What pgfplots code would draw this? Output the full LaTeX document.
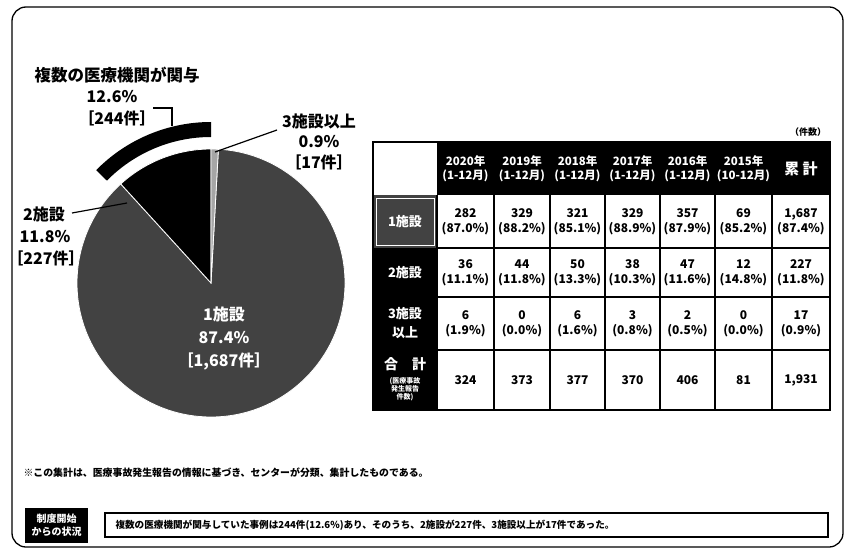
\documentclass[border=0pt]{standalone}
\usepackage{pgfplots}
\pgfplotsset{compat=1.18}
\usepackage{fontspec}
\setmainfont{Noto Sans CJK JP}
\begin{document}
\begin{tikzpicture}
% pie data (cases)
\pgfmathsetmacro{\nOne}{1687}
\pgfmathsetmacro{\nTwo}{227}
\pgfmathsetmacro{\nThree}{17}
\pgfmathsetmacro{\tot}{\nOne+\nTwo+\nThree}
\pgfmathsetmacro{\aOne}{\nOne/\tot*360}
\pgfmathsetmacro{\aTwo}{\nTwo/\tot*360}
\pgfmathsetmacro{\aThree}{\nThree/\tot*360}
\pgfmathsetmacro{\sOne}{90-\aThree}
\pgfmathsetmacro{\eOne}{90-\aThree-\aOne}
\pgfmathsetmacro{\aBand}{\aTwo+\aThree}
\begin{scope}[x=1pt,y=-1pt]
\path[use as bounding box] (0,0) rectangle (850,556);
\fill[white] (0,0) rectangle (850,556);
\draw[line width=1.3pt, rounded corners=14pt] (12,7) rectangle (843,547);
\end{scope}
\begin{axis}[at={(211pt,-283pt)}, anchor=center, width=400pt, height=400pt,
  scale only axis, xmin=-200, xmax=200, ymin=-200, ymax=200,
  axis lines=none, clip=false]
\fill[black!74, draw=white, line width=0.8pt] (axis cs:0,0) -- ++(\sOne:134pt) arc[start angle=\sOne, end angle=\eOne, radius=134pt] -- cycle;
\fill[black, draw=white, line width=0.8pt] (axis cs:0,0) -- ++(\eOne:134pt) arc[start angle=\eOne, end angle=-270, radius=134pt] -- cycle;
\fill[black!35, draw=white, line width=0.8pt] (axis cs:0,0) -- ++(90:134pt) arc[start angle=90, end angle=\sOne, radius=134pt] -- cycle;
\fill[black] (axis cs:0,0) ++(90:161pt) arc[start angle=90, end angle={90+\aBand}, radius=161pt] -- ++({90+\aBand+180}:15pt) arc[start angle={90+\aBand}, end angle=90, radius=146pt] -- cycle;
\end{axis}
\begin{scope}[x=1pt,y=-1pt, every node/.style={font=\bfseries}]
% pie labels
\node[font=\fontsize{16.5}{19}\selectfont\bfseries] at (117,75) {複数の医療機関が関与};
\node[font=\fontsize{16}{19}\selectfont\bfseries] at (112,97) {12.6\%};
\node[font=\fontsize{16}{19}\selectfont\bfseries] at (117,118) {［244件］};
\draw[line width=1.3pt] (153,108) -- (172,108) -- (172,126);
\node[font=\fontsize{16}{19}\selectfont\bfseries] at (319,121) {3施設以上};
\node[font=\fontsize{16}{19}\selectfont\bfseries] at (319,142) {0.9\%};
\node[font=\fontsize{16}{19}\selectfont\bfseries] at (319,162) {［17件］};
\draw[line width=1.2pt] (277,130) -- (215,152);
\node[font=\fontsize{16}{19}\selectfont\bfseries] at (44,214) {2施設};
\node[font=\fontsize{16}{19}\selectfont\bfseries] at (45,237) {11.8\%};
\node[font=\fontsize{16}{19}\selectfont\bfseries] at (46,258) {［227件］};
\draw[line width=1.2pt] (72,213) -- (127,203);
\node[white, align=center, font=\fontsize{16}{23}\selectfont\bfseries] at (224,338) {1施設\\87.4\%\\［1,687件］};
% table
\node[font=\fontsize{9}{11}\selectfont\bfseries] at (808,132) {（件数）};
\fill[black] (437,142) rectangle (830,195);
\fill[black] (373,195) rectangle (437,410);
\fill[black!74] (373,195) rectangle (437,248);
\draw[white, line width=1pt] (376,198) rectangle (434,245);
\draw[line width=1.3pt] (373,142) rectangle (830,410);
\foreach \yy in {248,297} \draw[line width=1.2pt] (437,\yy) -- (830,\yy);
\draw[line width=2pt] (373,350) -- (830,350);
\foreach \xx in {437,494,550,605,660,715,772} \draw[line width=1.2pt] (\xx,195) -- (\xx,410);
\foreach \xx/\t in {465.5/2020年\\(1-12月), 522/2019年\\(1-12月), 577.5/2018年\\(1-12月), 632.5/2017年\\(1-12月), 687.5/2016年\\(1-12月), 743.5/2015年\\(10-12月)}
  \node[white, align=center, font=\fontsize{11.5}{14}\selectfont\bfseries] at (\xx,168.5) {\t};
\node[white, font=\fontsize{15}{18}\selectfont\bfseries] at (801,168.5) {累 計};
\node[white, font=\fontsize{13}{16}\selectfont\bfseries] at (405,221.5) {1施設};
\node[white, font=\fontsize{13}{16}\selectfont\bfseries] at (405,272.5) {2施設};
\node[white, align=center, font=\fontsize{13}{19}\selectfont\bfseries] at (405,323.5) {3施設\\以上};
\node[white, font=\fontsize{14}{16}\selectfont\bfseries] at (405,364) {合　計};
\node[white, align=center, font=\fontsize{7}{8}\selectfont\bfseries] at (405,389) {(医療事故\\発生報告\\件数)};
\foreach \xx/\a/\b in {465.5/282/87.0, 522/329/88.2, 577.5/321/85.1, 632.5/329/88.9, 687.5/357/87.9, 743.5/69/85.2, 801/{1,687}/87.4}
  \node[align=center, font=\fontsize{12}{15}\selectfont\bfseries] at (\xx,221.5) {\a\\(\b\%)};
\foreach \xx/\a/\b in {465.5/36/11.1, 522/44/11.8, 577.5/50/13.3, 632.5/38/10.3, 687.5/47/11.6, 743.5/12/14.8, 801/227/11.8}
  \node[align=center, font=\fontsize{12}{15}\selectfont\bfseries] at (\xx,272.5) {\a\\(\b\%)};
\foreach \xx/\a/\b in {465.5/6/1.9, 522/0/0.0, 577.5/6/1.6, 632.5/3/0.8, 687.5/2/0.5, 743.5/0/0.0, 801/17/0.9}
  \node[align=center, font=\fontsize{12}{15}\selectfont\bfseries] at (\xx,323.5) {\a\\(\b\%)};
\foreach \xx/\a in {465.5/324, 522/373, 577.5/377, 632.5/370, 687.5/406, 743.5/81, 801/{1,931}}
  \node[font=\fontsize{12}{15}\selectfont\bfseries] at (\xx,380) {\a};
% notes
\node[anchor=west, font=\fontsize{9.9}{12}\selectfont\bfseries] at (20,473) {※この集計は、医療事故発生報告の情報に基づき、センターが分類、集計したものである。};
\fill[black] (25,508) rectangle (88,543);
\node[white, align=center, font=\fontsize{10}{13}\selectfont\bfseries] at (56.5,525.5) {制度開始\\からの状況};
\draw[line width=1.3pt] (105,513) rectangle (828,537);
\node[anchor=west, font=\fontsize{9.6}{12}\selectfont\bfseries] at (112,525) {複数の医療機関が関与していた事例は244件(12.6\%)あり、そのうち、2施設が227件、3施設以上が17件であった。};
\end{scope}
\end{tikzpicture}
\end{document}
